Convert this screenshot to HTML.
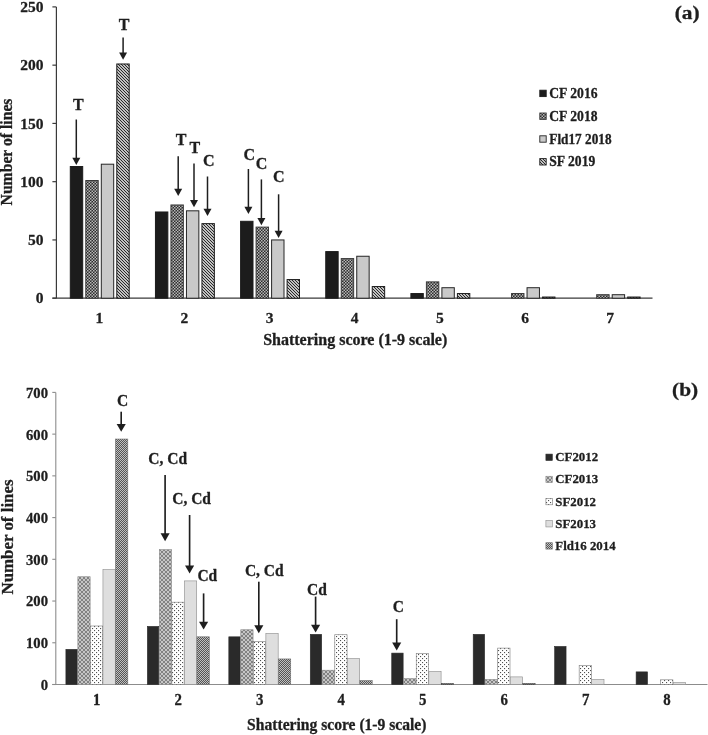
<!DOCTYPE html>
<html><head><meta charset="utf-8"><title>Shattering score</title>
<style>html,body{margin:0;padding:0;background:#fff}svg{display:block}</style></head>
<body>
<svg width="708" height="735" viewBox="0 0 708 735">

<defs>
<pattern id="pA2" width="3" height="3" patternUnits="userSpaceOnUse"><rect width="3" height="3" fill="#2c2c2c"/><rect x="0" y="0" width="1.5" height="1.5" fill="#b8b8b8"/><rect x="1.5" y="1.5" width="1.5" height="1.5" fill="#b8b8b8"/></pattern>
<pattern id="pA4" width="3" height="3" patternUnits="userSpaceOnUse"><rect width="3" height="3" fill="#fff"/><path d="M-1,-1 L4,4 M-1,2 L1,4 M2,-1 L4,1" stroke="#1c1c1c" stroke-width="1.05"/></pattern>
<pattern id="pB2" width="4" height="4" patternUnits="userSpaceOnUse"><rect width="4" height="4" fill="#828282"/><path d="M-1,-1 L5,5 M-1,5 L5,-1 M-1,3 L1,5 M3,-1 L5,1 M-1,1 L1,-1 M3,5 L5,3" stroke="#c6c6c6" stroke-width="1.0"/></pattern>
<pattern id="pB3" width="4" height="4" patternUnits="userSpaceOnUse"><rect width="4" height="4" fill="#fff"/><rect x="0" y="0" width="1.1" height="1.1" fill="#505050"/><rect x="2" y="2" width="1.1" height="1.1" fill="#505050"/></pattern>
<pattern id="pB5" width="2" height="2" patternUnits="userSpaceOnUse"><rect width="2" height="2" fill="#545454"/><rect width="1" height="1" fill="#c0c0c0"/><rect x="1" y="1" width="1" height="1" fill="#c0c0c0"/></pattern>
</defs>
<rect width="708" height="735" fill="#fff"/>
<g opacity="0.999">
<line x1="56.4" y1="6.9" x2="56.4" y2="298.2" stroke="#3a3a3a" stroke-width="1.2"/>
<line x1="52.4" y1="298.2" x2="652.5" y2="298.2" stroke="#3a3a3a" stroke-width="1.2"/>
<line x1="52.4" y1="298.20" x2="56.4" y2="298.20" stroke="#3a3a3a" stroke-width="1.2"/>
<text transform="translate(43.599999999999994 303.4)" font-size="15.5" text-anchor="end" fill="#1e1e1e" font-family="Liberation Serif, serif" font-weight="bold" stroke="#1e1e1e" stroke-width="0.3" stroke-linejoin="round">0</text>
<line x1="52.4" y1="239.94" x2="56.4" y2="239.94" stroke="#3a3a3a" stroke-width="1.2"/>
<text transform="translate(43.599999999999994 245.14)" font-size="15.5" text-anchor="end" fill="#1e1e1e" font-family="Liberation Serif, serif" font-weight="bold" stroke="#1e1e1e" stroke-width="0.3" stroke-linejoin="round">50</text>
<line x1="52.4" y1="181.68" x2="56.4" y2="181.68" stroke="#3a3a3a" stroke-width="1.2"/>
<text transform="translate(43.599999999999994 186.88)" font-size="15.5" text-anchor="end" fill="#1e1e1e" font-family="Liberation Serif, serif" font-weight="bold" stroke="#1e1e1e" stroke-width="0.3" stroke-linejoin="round">100</text>
<line x1="52.4" y1="123.42" x2="56.4" y2="123.42" stroke="#3a3a3a" stroke-width="1.2"/>
<text transform="translate(43.599999999999994 128.62)" font-size="15.5" text-anchor="end" fill="#1e1e1e" font-family="Liberation Serif, serif" font-weight="bold" stroke="#1e1e1e" stroke-width="0.3" stroke-linejoin="round">150</text>
<line x1="52.4" y1="65.16" x2="56.4" y2="65.16" stroke="#3a3a3a" stroke-width="1.2"/>
<text transform="translate(43.599999999999994 70.36)" font-size="15.5" text-anchor="end" fill="#1e1e1e" font-family="Liberation Serif, serif" font-weight="bold" stroke="#1e1e1e" stroke-width="0.3" stroke-linejoin="round">200</text>
<line x1="52.4" y1="6.90" x2="56.4" y2="6.90" stroke="#3a3a3a" stroke-width="1.2"/>
<text transform="translate(43.599999999999994 12.1)" font-size="15.5" text-anchor="end" fill="#1e1e1e" font-family="Liberation Serif, serif" font-weight="bold" stroke="#1e1e1e" stroke-width="0.3" stroke-linejoin="round">250</text>
<rect x="70.30" y="166.53" width="12.4" height="131.67" fill="#1c1c1c" stroke="#1c1c1c" stroke-width="1"/>
<rect x="85.80" y="180.51" width="12.4" height="117.69" fill="url(#pA2)" stroke="#3a3a3a" stroke-width="1"/>
<rect x="101.30" y="164.20" width="12.4" height="134.00" fill="#c9c9c9" stroke="#262626" stroke-width="1"/>
<rect x="116.80" y="63.99" width="12.4" height="234.21" fill="url(#pA4)" stroke="#1c1c1c" stroke-width="1"/>
<text transform="translate(99.27 322.8)" font-size="15.5" text-anchor="middle" fill="#1e1e1e" font-family="Liberation Serif, serif" font-weight="bold" stroke="#1e1e1e" stroke-width="0.3" stroke-linejoin="round">1</text>
<rect x="155.45" y="211.98" width="12.4" height="86.22" fill="#1c1c1c" stroke="#1c1c1c" stroke-width="1"/>
<rect x="170.95" y="204.98" width="12.4" height="93.22" fill="url(#pA2)" stroke="#3a3a3a" stroke-width="1"/>
<rect x="186.45" y="210.81" width="12.4" height="87.39" fill="#c9c9c9" stroke="#262626" stroke-width="1"/>
<rect x="201.95" y="223.63" width="12.4" height="74.57" fill="url(#pA4)" stroke="#1c1c1c" stroke-width="1"/>
<text transform="translate(184.43 322.8)" font-size="15.5" text-anchor="middle" fill="#1e1e1e" font-family="Liberation Serif, serif" font-weight="bold" stroke="#1e1e1e" stroke-width="0.3" stroke-linejoin="round">2</text>
<rect x="240.60" y="221.30" width="12.4" height="76.90" fill="#1c1c1c" stroke="#1c1c1c" stroke-width="1"/>
<rect x="256.10" y="227.12" width="12.4" height="71.08" fill="url(#pA2)" stroke="#3a3a3a" stroke-width="1"/>
<rect x="271.60" y="239.94" width="12.4" height="58.26" fill="#c9c9c9" stroke="#262626" stroke-width="1"/>
<rect x="287.10" y="279.56" width="12.4" height="18.64" fill="url(#pA4)" stroke="#1c1c1c" stroke-width="1"/>
<text transform="translate(269.57 322.8)" font-size="15.5" text-anchor="middle" fill="#1e1e1e" font-family="Liberation Serif, serif" font-weight="bold" stroke="#1e1e1e" stroke-width="0.3" stroke-linejoin="round">3</text>
<rect x="325.75" y="251.59" width="12.4" height="46.61" fill="#1c1c1c" stroke="#1c1c1c" stroke-width="1"/>
<rect x="341.25" y="258.58" width="12.4" height="39.62" fill="url(#pA2)" stroke="#3a3a3a" stroke-width="1"/>
<rect x="356.75" y="256.25" width="12.4" height="41.95" fill="#c9c9c9" stroke="#262626" stroke-width="1"/>
<rect x="372.25" y="286.55" width="12.4" height="11.65" fill="url(#pA4)" stroke="#1c1c1c" stroke-width="1"/>
<text transform="translate(354.73 322.8)" font-size="15.5" text-anchor="middle" fill="#1e1e1e" font-family="Liberation Serif, serif" font-weight="bold" stroke="#1e1e1e" stroke-width="0.3" stroke-linejoin="round">4</text>
<rect x="410.90" y="293.54" width="12.4" height="4.66" fill="#1c1c1c" stroke="#1c1c1c" stroke-width="1"/>
<rect x="426.40" y="281.89" width="12.4" height="16.31" fill="url(#pA2)" stroke="#3a3a3a" stroke-width="1"/>
<rect x="441.90" y="287.71" width="12.4" height="10.49" fill="#c9c9c9" stroke="#262626" stroke-width="1"/>
<rect x="457.40" y="293.54" width="12.4" height="4.66" fill="url(#pA4)" stroke="#1c1c1c" stroke-width="1"/>
<text transform="translate(439.88 322.8)" font-size="15.5" text-anchor="middle" fill="#1e1e1e" font-family="Liberation Serif, serif" font-weight="bold" stroke="#1e1e1e" stroke-width="0.3" stroke-linejoin="round">5</text>
<rect x="511.55" y="293.54" width="12.4" height="4.66" fill="url(#pA2)" stroke="#3a3a3a" stroke-width="1"/>
<rect x="527.05" y="287.71" width="12.4" height="10.49" fill="#c9c9c9" stroke="#262626" stroke-width="1"/>
<rect x="542.55" y="297.03" width="12.4" height="1.17" fill="url(#pA4)" stroke="#1c1c1c" stroke-width="1"/>
<text transform="translate(525.02 322.8)" font-size="15.5" text-anchor="middle" fill="#1e1e1e" font-family="Liberation Serif, serif" font-weight="bold" stroke="#1e1e1e" stroke-width="0.3" stroke-linejoin="round">6</text>
<rect x="596.70" y="294.70" width="12.4" height="3.50" fill="url(#pA2)" stroke="#3a3a3a" stroke-width="1"/>
<rect x="612.20" y="294.70" width="12.4" height="3.50" fill="#c9c9c9" stroke="#262626" stroke-width="1"/>
<rect x="627.70" y="297.03" width="12.4" height="1.17" fill="url(#pA4)" stroke="#1c1c1c" stroke-width="1"/>
<text transform="translate(610.17 322.8)" font-size="15.5" text-anchor="middle" fill="#1e1e1e" font-family="Liberation Serif, serif" font-weight="bold" stroke="#1e1e1e" stroke-width="0.3" stroke-linejoin="round">7</text>
<text transform="translate(355.2 344.5)" font-size="16" text-anchor="middle" fill="#1e1e1e" font-family="Liberation Serif, serif" font-weight="bold" stroke="#1e1e1e" stroke-width="0.3" stroke-linejoin="round">Shattering score (1-9 scale)</text>
<text transform="translate(12.4 152) rotate(-90) scale(1 1.0)" font-size="15.7" text-anchor="middle" fill="#1e1e1e" font-family="Liberation Serif, serif" font-weight="bold" stroke="#1e1e1e" stroke-width="0.3" stroke-linejoin="round">Number of lines</text>
<text transform="translate(687.1 19.3) scale(1.107 1)" font-size="19.3" text-anchor="middle" fill="#1e1e1e" font-family="Liberation Serif, serif" font-weight="bold" stroke="#1e1e1e" stroke-width="0.3" stroke-linejoin="round">(a)</text>
<rect x="539.8" y="90.20" width="6.4" height="6.4" fill="#1c1c1c" stroke="#1c1c1c" stroke-width="0.9"/>
<text transform="translate(549.3 98.0)" font-size="13.6" text-anchor="start" fill="#1e1e1e" font-family="Liberation Serif, serif" font-weight="bold" stroke="#1e1e1e" stroke-width="0.3" stroke-linejoin="round">CF 2016</text>
<rect x="539.8" y="113.00" width="6.4" height="6.4" fill="url(#pA2)" stroke="#3a3a3a" stroke-width="0.9"/>
<text transform="translate(549.3 120.8)" font-size="13.6" text-anchor="start" fill="#1e1e1e" font-family="Liberation Serif, serif" font-weight="bold" stroke="#1e1e1e" stroke-width="0.3" stroke-linejoin="round">CF 2018</text>
<rect x="539.8" y="135.80" width="6.4" height="6.4" fill="#c9c9c9" stroke="#262626" stroke-width="0.9"/>
<text transform="translate(549.3 143.6) scale(0.975 1)" font-size="13.6" text-anchor="start" fill="#1e1e1e" font-family="Liberation Serif, serif" font-weight="bold" stroke="#1e1e1e" stroke-width="0.3" stroke-linejoin="round">Fld17 2018</text>
<rect x="539.8" y="158.60" width="6.4" height="6.4" fill="url(#pA4)" stroke="#1c1c1c" stroke-width="0.9"/>
<text transform="translate(549.3 166.4)" font-size="13.6" text-anchor="start" fill="#1e1e1e" font-family="Liberation Serif, serif" font-weight="bold" stroke="#1e1e1e" stroke-width="0.3" stroke-linejoin="round">SF 2019</text>
<line x1="76.3" y1="119.5" x2="76.3" y2="158.8" stroke="#1e1e1e" stroke-width="1.5"/>
<path d="M72.3,157.8 L80.3,157.8 L76.3,165.1 Z" fill="#1e1e1e"/>
<text transform="translate(78.4 110.1)" font-size="16" text-anchor="middle" fill="#1e1e1e" font-family="Liberation Serif, serif" font-weight="bold" stroke="#1e1e1e" stroke-width="0.3" stroke-linejoin="round">T</text>
<line x1="123.1" y1="37.6" x2="123.1" y2="53.4" stroke="#1e1e1e" stroke-width="1.5"/>
<path d="M119.1,52.4 L127.1,52.4 L123.1,59.7 Z" fill="#1e1e1e"/>
<text transform="translate(124 30)" font-size="16" text-anchor="middle" fill="#1e1e1e" font-family="Liberation Serif, serif" font-weight="bold" stroke="#1e1e1e" stroke-width="0.3" stroke-linejoin="round">T</text>
<line x1="178.2" y1="156.3" x2="178.2" y2="189.70000000000002" stroke="#1e1e1e" stroke-width="1.5"/>
<path d="M174.2,188.70000000000002 L182.2,188.70000000000002 L178.2,196.0 Z" fill="#1e1e1e"/>
<text transform="translate(181 144.8)" font-size="16" text-anchor="middle" fill="#1e1e1e" font-family="Liberation Serif, serif" font-weight="bold" stroke="#1e1e1e" stroke-width="0.3" stroke-linejoin="round">T</text>
<line x1="194" y1="163.6" x2="194" y2="200.9" stroke="#1e1e1e" stroke-width="1.5"/>
<path d="M190.0,199.9 L198.0,199.9 L194,207.2 Z" fill="#1e1e1e"/>
<text transform="translate(194.9 153.3)" font-size="16" text-anchor="middle" fill="#1e1e1e" font-family="Liberation Serif, serif" font-weight="bold" stroke="#1e1e1e" stroke-width="0.3" stroke-linejoin="round">T</text>
<line x1="207.5" y1="176.5" x2="207.5" y2="209.8" stroke="#1e1e1e" stroke-width="1.5"/>
<path d="M203.5,208.8 L211.5,208.8 L207.5,216.1 Z" fill="#1e1e1e"/>
<text transform="translate(208.9 166)" font-size="16" text-anchor="middle" fill="#1e1e1e" font-family="Liberation Serif, serif" font-weight="bold" stroke="#1e1e1e" stroke-width="0.3" stroke-linejoin="round">C</text>
<line x1="248.4" y1="169" x2="248.4" y2="207.8" stroke="#1e1e1e" stroke-width="1.5"/>
<path d="M244.4,206.8 L252.4,206.8 L248.4,214.1 Z" fill="#1e1e1e"/>
<text transform="translate(249.4 159.7)" font-size="16" text-anchor="middle" fill="#1e1e1e" font-family="Liberation Serif, serif" font-weight="bold" stroke="#1e1e1e" stroke-width="0.3" stroke-linejoin="round">C</text>
<line x1="261.4" y1="179.4" x2="261.4" y2="218.9" stroke="#1e1e1e" stroke-width="1.5"/>
<path d="M257.4,217.9 L265.4,217.9 L261.4,225.2 Z" fill="#1e1e1e"/>
<text transform="translate(261.5 169)" font-size="16" text-anchor="middle" fill="#1e1e1e" font-family="Liberation Serif, serif" font-weight="bold" stroke="#1e1e1e" stroke-width="0.3" stroke-linejoin="round">C</text>
<line x1="278.6" y1="194.3" x2="278.6" y2="231.8" stroke="#1e1e1e" stroke-width="1.5"/>
<path d="M274.6,230.8 L282.6,230.8 L278.6,238.1 Z" fill="#1e1e1e"/>
<text transform="translate(278.9 182.4)" font-size="16" text-anchor="middle" fill="#1e1e1e" font-family="Liberation Serif, serif" font-weight="bold" stroke="#1e1e1e" stroke-width="0.3" stroke-linejoin="round">C</text>
<line x1="55.8" y1="392.4" x2="55.8" y2="684.5" stroke="#8c8c8c" stroke-width="1.1"/>
<line x1="52.3" y1="684.5" x2="707.5" y2="684.5" stroke="#8c8c8c" stroke-width="1.1"/>
<line x1="52.3" y1="684.50" x2="55.8" y2="684.50" stroke="#8c8c8c" stroke-width="1.1"/>
<text transform="translate(48.0 689.9) scale(0.94 1)" font-size="15.6" text-anchor="end" fill="#1e1e1e" font-family="Liberation Serif, serif" font-weight="bold" stroke="#1e1e1e" stroke-width="0.3" stroke-linejoin="round">0</text>
<line x1="52.3" y1="642.77" x2="55.8" y2="642.77" stroke="#8c8c8c" stroke-width="1.1"/>
<text transform="translate(48.0 648.17) scale(0.94 1)" font-size="15.6" text-anchor="end" fill="#1e1e1e" font-family="Liberation Serif, serif" font-weight="bold" stroke="#1e1e1e" stroke-width="0.3" stroke-linejoin="round">100</text>
<line x1="52.3" y1="601.04" x2="55.8" y2="601.04" stroke="#8c8c8c" stroke-width="1.1"/>
<text transform="translate(48.0 606.44) scale(0.94 1)" font-size="15.6" text-anchor="end" fill="#1e1e1e" font-family="Liberation Serif, serif" font-weight="bold" stroke="#1e1e1e" stroke-width="0.3" stroke-linejoin="round">200</text>
<line x1="52.3" y1="559.31" x2="55.8" y2="559.31" stroke="#8c8c8c" stroke-width="1.1"/>
<text transform="translate(48.0 564.71) scale(0.94 1)" font-size="15.6" text-anchor="end" fill="#1e1e1e" font-family="Liberation Serif, serif" font-weight="bold" stroke="#1e1e1e" stroke-width="0.3" stroke-linejoin="round">300</text>
<line x1="52.3" y1="517.59" x2="55.8" y2="517.59" stroke="#8c8c8c" stroke-width="1.1"/>
<text transform="translate(48.0 522.99) scale(0.94 1)" font-size="15.6" text-anchor="end" fill="#1e1e1e" font-family="Liberation Serif, serif" font-weight="bold" stroke="#1e1e1e" stroke-width="0.3" stroke-linejoin="round">400</text>
<line x1="52.3" y1="475.86" x2="55.8" y2="475.86" stroke="#8c8c8c" stroke-width="1.1"/>
<text transform="translate(48.0 481.26) scale(0.94 1)" font-size="15.6" text-anchor="end" fill="#1e1e1e" font-family="Liberation Serif, serif" font-weight="bold" stroke="#1e1e1e" stroke-width="0.3" stroke-linejoin="round">500</text>
<line x1="52.3" y1="434.13" x2="55.8" y2="434.13" stroke="#8c8c8c" stroke-width="1.1"/>
<text transform="translate(48.0 439.53) scale(0.94 1)" font-size="15.6" text-anchor="end" fill="#1e1e1e" font-family="Liberation Serif, serif" font-weight="bold" stroke="#1e1e1e" stroke-width="0.3" stroke-linejoin="round">600</text>
<line x1="52.3" y1="392.40" x2="55.8" y2="392.40" stroke="#8c8c8c" stroke-width="1.1"/>
<text transform="translate(48.0 397.8) scale(0.94 1)" font-size="15.6" text-anchor="end" fill="#1e1e1e" font-family="Liberation Serif, serif" font-weight="bold" stroke="#1e1e1e" stroke-width="0.3" stroke-linejoin="round">700</text>
<rect x="65.90" y="649.35" width="11.40" height="35.15" fill="#2a2a2a" stroke="#2a2a2a" stroke-width="0.6"/>
<rect x="77.85" y="576.74" width="12.30" height="107.76" fill="url(#pB2)" stroke="#8c8c8c" stroke-width="0.6"/>
<rect x="90.40" y="625.98" width="12.30" height="58.52" fill="url(#pB3)" stroke="#7a7a7a" stroke-width="0.6"/>
<rect x="102.95" y="569.65" width="12.30" height="114.85" fill="#dedede" stroke="#8a8a8a" stroke-width="0.6"/>
<rect x="115.50" y="439.04" width="12.30" height="245.46" fill="url(#pB5)" stroke="#6c6c6c" stroke-width="0.6"/>
<text transform="translate(96.83 704.6) scale(0.94 1)" font-size="15.8" text-anchor="middle" fill="#1e1e1e" font-family="Liberation Serif, serif" font-weight="bold" stroke="#1e1e1e" stroke-width="0.3" stroke-linejoin="round">1</text>
<rect x="147.36" y="626.40" width="11.40" height="58.10" fill="#2a2a2a" stroke="#2a2a2a" stroke-width="0.6"/>
<rect x="159.31" y="549.62" width="12.30" height="134.88" fill="url(#pB2)" stroke="#8c8c8c" stroke-width="0.6"/>
<rect x="171.86" y="602.19" width="12.30" height="82.31" fill="url(#pB3)" stroke="#7a7a7a" stroke-width="0.6"/>
<rect x="184.41" y="580.91" width="12.30" height="103.59" fill="#dedede" stroke="#8a8a8a" stroke-width="0.6"/>
<rect x="196.96" y="636.83" width="12.30" height="47.67" fill="url(#pB5)" stroke="#6c6c6c" stroke-width="0.6"/>
<text transform="translate(178.29 704.6) scale(0.94 1)" font-size="15.8" text-anchor="middle" fill="#1e1e1e" font-family="Liberation Serif, serif" font-weight="bold" stroke="#1e1e1e" stroke-width="0.3" stroke-linejoin="round">2</text>
<rect x="228.82" y="636.83" width="11.40" height="47.67" fill="#2a2a2a" stroke="#2a2a2a" stroke-width="0.6"/>
<rect x="240.77" y="629.74" width="12.30" height="54.76" fill="url(#pB2)" stroke="#8c8c8c" stroke-width="0.6"/>
<rect x="253.32" y="641.42" width="12.30" height="43.08" fill="url(#pB3)" stroke="#7a7a7a" stroke-width="0.6"/>
<rect x="265.87" y="633.49" width="12.30" height="51.01" fill="#dedede" stroke="#8a8a8a" stroke-width="0.6"/>
<rect x="278.42" y="658.95" width="12.30" height="25.55" fill="url(#pB5)" stroke="#6c6c6c" stroke-width="0.6"/>
<text transform="translate(259.75 704.6) scale(0.94 1)" font-size="15.8" text-anchor="middle" fill="#1e1e1e" font-family="Liberation Serif, serif" font-weight="bold" stroke="#1e1e1e" stroke-width="0.3" stroke-linejoin="round">3</text>
<rect x="310.28" y="634.33" width="11.40" height="50.17" fill="#2a2a2a" stroke="#2a2a2a" stroke-width="0.6"/>
<rect x="322.23" y="670.21" width="12.30" height="14.29" fill="url(#pB2)" stroke="#8c8c8c" stroke-width="0.6"/>
<rect x="334.78" y="634.74" width="12.30" height="49.76" fill="url(#pB3)" stroke="#7a7a7a" stroke-width="0.6"/>
<rect x="347.33" y="658.53" width="12.30" height="25.97" fill="#dedede" stroke="#8a8a8a" stroke-width="0.6"/>
<rect x="359.88" y="680.64" width="12.30" height="3.86" fill="url(#pB5)" stroke="#6c6c6c" stroke-width="0.6"/>
<text transform="translate(341.21 704.6) scale(0.94 1)" font-size="15.8" text-anchor="middle" fill="#1e1e1e" font-family="Liberation Serif, serif" font-weight="bold" stroke="#1e1e1e" stroke-width="0.3" stroke-linejoin="round">4</text>
<rect x="391.74" y="653.10" width="11.40" height="31.40" fill="#2a2a2a" stroke="#2a2a2a" stroke-width="0.6"/>
<rect x="403.69" y="678.56" width="12.30" height="5.94" fill="url(#pB2)" stroke="#8c8c8c" stroke-width="0.6"/>
<rect x="416.24" y="653.52" width="12.30" height="30.98" fill="url(#pB3)" stroke="#7a7a7a" stroke-width="0.6"/>
<rect x="428.79" y="671.46" width="12.30" height="13.04" fill="#dedede" stroke="#8a8a8a" stroke-width="0.6"/>
<rect x="441.34" y="683.57" width="12.30" height="0.93" fill="url(#pB5)" stroke="#3a3a3a" stroke-width="0.6"/>
<text transform="translate(422.67 704.6) scale(0.94 1)" font-size="15.8" text-anchor="middle" fill="#1e1e1e" font-family="Liberation Serif, serif" font-weight="bold" stroke="#1e1e1e" stroke-width="0.3" stroke-linejoin="round">5</text>
<rect x="473.20" y="634.33" width="11.40" height="50.17" fill="#2a2a2a" stroke="#2a2a2a" stroke-width="0.6"/>
<rect x="485.15" y="679.39" width="12.30" height="5.11" fill="url(#pB2)" stroke="#8c8c8c" stroke-width="0.6"/>
<rect x="497.70" y="648.10" width="12.30" height="36.40" fill="url(#pB3)" stroke="#7a7a7a" stroke-width="0.6"/>
<rect x="510.25" y="676.89" width="12.30" height="7.61" fill="#dedede" stroke="#8a8a8a" stroke-width="0.6"/>
<rect x="522.80" y="683.57" width="12.30" height="0.93" fill="url(#pB5)" stroke="#3a3a3a" stroke-width="0.6"/>
<text transform="translate(504.13 704.6) scale(0.94 1)" font-size="15.8" text-anchor="middle" fill="#1e1e1e" font-family="Liberation Serif, serif" font-weight="bold" stroke="#1e1e1e" stroke-width="0.3" stroke-linejoin="round">6</text>
<rect x="554.66" y="646.43" width="11.40" height="38.07" fill="#2a2a2a" stroke="#2a2a2a" stroke-width="0.6"/>
<rect x="579.16" y="665.62" width="12.30" height="18.88" fill="url(#pB3)" stroke="#7a7a7a" stroke-width="0.6"/>
<rect x="591.71" y="679.39" width="12.30" height="5.11" fill="#dedede" stroke="#8a8a8a" stroke-width="0.6"/>
<text transform="translate(585.59 704.6) scale(0.94 1)" font-size="15.8" text-anchor="middle" fill="#1e1e1e" font-family="Liberation Serif, serif" font-weight="bold" stroke="#1e1e1e" stroke-width="0.3" stroke-linejoin="round">7</text>
<rect x="636.12" y="671.88" width="11.40" height="12.62" fill="#2a2a2a" stroke="#2a2a2a" stroke-width="0.6"/>
<rect x="660.62" y="679.81" width="12.30" height="4.69" fill="url(#pB3)" stroke="#7a7a7a" stroke-width="0.6"/>
<rect x="673.17" y="682.52" width="12.30" height="1.98" fill="#dedede" stroke="#8a8a8a" stroke-width="0.6"/>
<text transform="translate(667.05 704.6) scale(0.94 1)" font-size="15.8" text-anchor="middle" fill="#1e1e1e" font-family="Liberation Serif, serif" font-weight="bold" stroke="#1e1e1e" stroke-width="0.3" stroke-linejoin="round">8</text>
<text transform="translate(336.8 730.2) scale(0.945 1)" font-size="16.5" text-anchor="middle" fill="#1e1e1e" font-family="Liberation Serif, serif" font-weight="bold" stroke="#1e1e1e" stroke-width="0.3" stroke-linejoin="round">Shattering score (1-9 scale)</text>
<text transform="translate(12.9 537) rotate(-90) scale(1 0.94)" font-size="16.9" text-anchor="middle" fill="#1e1e1e" font-family="Liberation Serif, serif" font-weight="bold" stroke="#1e1e1e" stroke-width="0.3" stroke-linejoin="round">Number of lines</text>
<text transform="translate(685.1 396.3) scale(1.107 1)" font-size="19.3" text-anchor="middle" fill="#1e1e1e" font-family="Liberation Serif, serif" font-weight="bold" stroke="#1e1e1e" stroke-width="0.3" stroke-linejoin="round">(b)</text>
<rect x="545.9" y="454.10" width="6.4" height="6.4" fill="#2a2a2a" stroke="#2a2a2a" stroke-width="0.6"/>
<text transform="translate(555.3 461.3) scale(0.96 1)" font-size="13.4" text-anchor="start" fill="#1e1e1e" font-family="Liberation Serif, serif" font-weight="bold" stroke="#1e1e1e" stroke-width="0.3" stroke-linejoin="round">CF2012</text>
<rect x="545.9" y="476.25" width="6.4" height="6.4" fill="url(#pB2)" stroke="#8c8c8c" stroke-width="0.6"/>
<text transform="translate(555.3 483.45) scale(0.96 1)" font-size="13.4" text-anchor="start" fill="#1e1e1e" font-family="Liberation Serif, serif" font-weight="bold" stroke="#1e1e1e" stroke-width="0.3" stroke-linejoin="round">CF2013</text>
<rect x="545.9" y="498.40" width="6.4" height="6.4" fill="url(#pB3)" stroke="#7a7a7a" stroke-width="0.6"/>
<text transform="translate(555.3 505.6) scale(0.96 1)" font-size="13.4" text-anchor="start" fill="#1e1e1e" font-family="Liberation Serif, serif" font-weight="bold" stroke="#1e1e1e" stroke-width="0.3" stroke-linejoin="round">SF2012</text>
<rect x="545.9" y="520.55" width="6.4" height="6.4" fill="#dedede" stroke="#8a8a8a" stroke-width="0.6"/>
<text transform="translate(555.3 527.75) scale(0.96 1)" font-size="13.4" text-anchor="start" fill="#1e1e1e" font-family="Liberation Serif, serif" font-weight="bold" stroke="#1e1e1e" stroke-width="0.3" stroke-linejoin="round">SF2013</text>
<rect x="545.9" y="542.70" width="6.4" height="6.4" fill="url(#pB5)" stroke="#6c6c6c" stroke-width="0.6"/>
<text transform="translate(555.3 549.9) scale(0.96 1)" font-size="13.4" text-anchor="start" fill="#1e1e1e" font-family="Liberation Serif, serif" font-weight="bold" stroke="#1e1e1e" stroke-width="0.3" stroke-linejoin="round">Fld16 2014</text>
<line x1="121.2" y1="411.7" x2="121.2" y2="424.90000000000003" stroke="#1e1e1e" stroke-width="1.65"/>
<path d="M116.65,423.90000000000003 L125.75,423.90000000000003 L121.2,431.8 Z" fill="#1e1e1e"/>
<text transform="translate(122.7 406.2) scale(0.94 1)" font-size="16.5" text-anchor="middle" fill="#1e1e1e" font-family="Liberation Serif, serif" font-weight="bold" stroke="#1e1e1e" stroke-width="0.3" stroke-linejoin="round">C</text>
<line x1="165.1" y1="475" x2="165.1" y2="534.3" stroke="#1e1e1e" stroke-width="1.65"/>
<path d="M160.54999999999998,533.3 L169.65,533.3 L165.1,541.2 Z" fill="#1e1e1e"/>
<text transform="translate(167.7 463.7) scale(0.94 1)" font-size="16.5" text-anchor="middle" fill="#1e1e1e" font-family="Liberation Serif, serif" font-weight="bold" stroke="#1e1e1e" stroke-width="0.3" stroke-linejoin="round">C, Cd</text>
<line x1="189.6" y1="515" x2="189.6" y2="566.5" stroke="#1e1e1e" stroke-width="1.65"/>
<path d="M185.04999999999998,565.5 L194.15,565.5 L189.6,573.4000000000001 Z" fill="#1e1e1e"/>
<text transform="translate(191.6 504.2) scale(0.94 1)" font-size="16.5" text-anchor="middle" fill="#1e1e1e" font-family="Liberation Serif, serif" font-weight="bold" stroke="#1e1e1e" stroke-width="0.3" stroke-linejoin="round">C, Cd</text>
<line x1="203.6" y1="593.4" x2="203.6" y2="622.6999999999999" stroke="#1e1e1e" stroke-width="1.65"/>
<path d="M199.04999999999998,621.6999999999999 L208.15,621.6999999999999 L203.6,629.6 Z" fill="#1e1e1e"/>
<text transform="translate(207.3 581) scale(0.94 1)" font-size="16.5" text-anchor="middle" fill="#1e1e1e" font-family="Liberation Serif, serif" font-weight="bold" stroke="#1e1e1e" stroke-width="0.3" stroke-linejoin="round">Cd</text>
<line x1="258.8" y1="581.7" x2="258.8" y2="626.3" stroke="#1e1e1e" stroke-width="1.65"/>
<path d="M254.25,625.3 L263.35,625.3 L258.8,633.2 Z" fill="#1e1e1e"/>
<text transform="translate(264.3 575.7) scale(0.94 1)" font-size="16.5" text-anchor="middle" fill="#1e1e1e" font-family="Liberation Serif, serif" font-weight="bold" stroke="#1e1e1e" stroke-width="0.3" stroke-linejoin="round">C, Cd</text>
<line x1="315.6" y1="596.6" x2="315.6" y2="625.6999999999999" stroke="#1e1e1e" stroke-width="1.65"/>
<path d="M311.05,624.6999999999999 L320.15000000000003,624.6999999999999 L315.6,632.6 Z" fill="#1e1e1e"/>
<text transform="translate(317 595.2) scale(0.94 1)" font-size="16.5" text-anchor="middle" fill="#1e1e1e" font-family="Liberation Serif, serif" font-weight="bold" stroke="#1e1e1e" stroke-width="0.3" stroke-linejoin="round">Cd</text>
<line x1="396.7" y1="619.2" x2="396.7" y2="643.5" stroke="#1e1e1e" stroke-width="1.65"/>
<path d="M392.15,642.5 L401.25,642.5 L396.7,650.4000000000001 Z" fill="#1e1e1e"/>
<text transform="translate(398.4 612.1) scale(0.94 1)" font-size="16.5" text-anchor="middle" fill="#1e1e1e" font-family="Liberation Serif, serif" font-weight="bold" stroke="#1e1e1e" stroke-width="0.3" stroke-linejoin="round">C</text>
</g>
</svg>
</body></html>
